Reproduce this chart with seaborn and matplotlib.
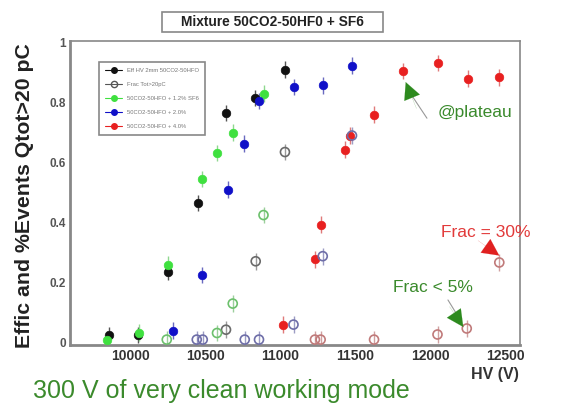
import matplotlib
matplotlib.use("Agg")
import matplotlib.pyplot as plt
from matplotlib.lines import Line2D
from matplotlib.patches import Rectangle
from matplotlib.ticker import MultipleLocator
import seaborn as sns
import pandas as pd

# ---------------- data ----------------
black_hv = [9860, 10055, 10250, 10450, 10640, 10835, 11030]
black_eff = [0.025, 0.025, 0.235, 0.465, 0.765, 0.815, 0.910]

black_open_hv = [10640, 10838, 11033]
black_open_frac = [0.043, 0.271, 0.635]

green_hv = [9845, 10060, 10250, 10480, 10580, 10685, 10890]
green_eff = [0.010, 0.033, 0.260, 0.545, 0.632, 0.700, 0.830]

green_open_hv = [10245, 10580, 10685, 10890]
green_open_frac = [0.010, 0.032, 0.130, 0.425]

blue_hv = [10285, 10480, 10655, 10760, 10860, 11090, 11285, 11480]
blue_eff = [0.040, 0.225, 0.510, 0.663, 0.805, 0.852, 0.857, 0.923]

blue_open_hv = [10445, 10485, 10765, 10860, 11090, 11285, 11480]
blue_open_frac = [0.010, 0.010, 0.010, 0.010, 0.060, 0.288, 0.690]

red_hv = [11022, 11235, 11270, 11435, 11467, 11627, 11822, 12050, 12250, 12462]
red_eff = [0.060, 0.278, 0.393, 0.643, 0.690, 0.760, 0.905, 0.932, 0.880, 0.884]

red_open_hv = [11233, 11271, 11627, 12050, 12245, 12462]
red_open_frac = [0.010, 0.010, 0.010, 0.027, 0.047, 0.267]

legend_labels = ["Eff HV 2mm 50CO2-50HFO", "Frac Tot>20pC",
                 "50CO2-50HFO + 1.2% SF6", "50CO2-50HFO + 2.0%",
                 "50CO2-50HFO + 4.0%"]
x_ticks = [10000, 10500, 11000, 11500, 12000, 12500]
y_ticks = [0, 0.2, 0.4, 0.6, 0.8, 1]
y_tick_labels = ["0", "0.2", "0.4", "0.6", "0.8", "1"]

# ---------------- figure ----------------
sns.set_style("white")
plt.rcParams["font.family"] = ["Liberation Sans", "DejaVu Sans"]

fig = plt.figure(figsize=(5.79, 4.03), dpi=100)
ax = fig.add_axes([70 / 579, 1 - 345 / 403, 450 / 579, 304 / 403])

ERR = 0.028
series = [
    (black_hv, black_eff, "#111111", "#555555", True),
    (green_hv, green_eff, "#3fe03f", "#8fd88f", True),
    (blue_hv, blue_eff, "#1010c8", "#6a6ac0", True),
    (red_hv, red_eff, "#e82020", "#e07a7a", True),
    (black_open_hv, black_open_frac, "#6a6a6a", "#9a9a9a", False),
    (green_open_hv, green_open_frac, "#6cc06c", "#9ccf9c", False),
    (blue_open_hv, blue_open_frac, "#6e6ea8", "#9c9cc4", False),
    (red_open_hv, red_open_frac, "#c07a7a", "#d0a0a0", False),
]

for hv, val, col, ecol, filled in series:
    ax.errorbar(hv, val, yerr=ERR, fmt="none", ecolor=ecol, elinewidth=1.0,
                capsize=0, zorder=2)
    df = pd.DataFrame({"hv": hv, "val": val})
    if filled:
        sns.scatterplot(data=df, x="hv", y="val", ax=ax, color=col, s=38,
                        marker="o", edgecolor=col, linewidth=0.5, zorder=3,
                        legend=False)
    else:
        sns.scatterplot(data=df, x="hv", y="val", ax=ax, s=42, marker="o",
                        facecolor="none", edgecolor=col, linewidth=1.2,
                        zorder=3, legend=False)

ax.set_xlim(9600, 12600)
ax.set_ylim(-0.008, 1.005)
ax.set_xlabel("")
ax.set_ylabel("")

ax.xaxis.set_minor_locator(MultipleLocator(100))
ax.set_xticks(x_ticks)
ax.set_yticks(y_ticks)
ax.set_yticklabels(y_tick_labels)
ax.yaxis.set_minor_locator(MultipleLocator(0.05))
ax.tick_params(axis="x", which="major", direction="in", length=9, width=1,
               color="#777777", labelsize=10, labelcolor="#333333", pad=3,
               top=False)
ax.tick_params(axis="x", which="minor", direction="in", length=5, width=0.8,
               color="#888888", top=False)
ax.tick_params(axis="y", which="major", direction="in", length=9, width=1,
               color="#777777", labelsize=8.5, labelcolor="#555555", pad=3,
               right=False)
ax.tick_params(axis="y", which="minor", direction="in", length=5, width=0.8,
               color="#888888", right=False)
for lab in ax.get_xticklabels():
    lab.set_fontweight("bold")
for lab in ax.get_yticklabels():
    lab.set_fontweight("bold")
for sp in ax.spines.values():
    sp.set_color("#888888")
    sp.set_linewidth(1.2)
ax.spines["left"].set_linewidth(2.0)
ax.spines["bottom"].set_linewidth(2.0)

# legend
handles = [
    Line2D([0], [0], color="#111111", marker="o", markersize=4, lw=0.8),
    Line2D([0], [0], color="#555555", marker="o", markersize=4.5, lw=0.8,
           markerfacecolor="none"),
    Line2D([0], [0], color="#3fe03f", marker="o", markersize=4, lw=0.8),
    Line2D([0], [0], color="#1010c8", marker="o", markersize=4, lw=0.8),
    Line2D([0], [0], color="#e82020", marker="o", markersize=4, lw=0.8),
]
leg = ax.legend(handles, legend_labels, loc="upper left",
                bbox_to_anchor=(0.058, 0.941), fontsize=4.2,
                labelspacing=1.55, handlelength=3.0, borderpad=1.0,
                fancybox=False, frameon=True, framealpha=1, labelcolor="#777777")
leg.get_frame().set_edgecolor("#888888")
leg.get_frame().set_linewidth(1.2)

# annotations
dgreen = "#3a8a2c"
ax.text(12300, 0.767, "@plateau", color=dgreen, fontsize=12.5,
        ha="center", va="center")
ax.annotate("", xy=(11870, 0.83), xytext=(11990, 0.740),
            arrowprops=dict(arrowstyle="-", color="#999999", lw=0.8))
ax.annotate("", xy=(11838, 0.868), xytext=(11910, 0.78),
            arrowprops=dict(arrowstyle="-|>", color="#2d8a1e", lw=0.1,
                            mutation_scale=30, shrinkA=0, shrinkB=0))

ax.text(12370, 0.367, "Frac = 30%", color="#e23a3a", fontsize=12.5,
        ha="center", va="center")
ax.annotate("", xy=(12462, 0.29), xytext=(12320, 0.34),
            arrowprops=dict(arrowstyle="-|>", color="#e02020", lw=0.1,
                            mutation_scale=30, shrinkA=0, shrinkB=0))

ax.text(12020, 0.183, "Frac < 5%", color=dgreen, fontsize=12.5,
        ha="center", va="center")
ax.annotate("", xy=(12190, 0.085), xytext=(12110, 0.15),
            arrowprops=dict(arrowstyle="-", color="#999999", lw=0.8))
ax.annotate("", xy=(12222, 0.052), xytext=(12130, 0.12),
            arrowprops=dict(arrowstyle="-|>", color="#2d8a1e", lw=0.1,
                            mutation_scale=30, shrinkA=0, shrinkB=0))

# title box
fig.patches.append(Rectangle((162 / 579, 1 - 32 / 403), 221 / 579, 20 / 403,
                             transform=fig.transFigure, facecolor="white",
                             edgecolor="#888888", linewidth=1.2))
fig.text(272 / 579, 1 - 22 / 403, "Mixture 50CO2-50HF0 + SF6",
         ha="center", va="center", fontsize=9.9, fontweight="bold",
         color="#222222")

# axis titles
fig.text(25 / 579, 1 - 196 / 403, "Effic and %Events Qtot>20 pC",
         rotation=90, ha="center", va="center", fontsize=15.3,
         fontweight="bold", color="#222222")
fig.text(495 / 579, 1 - 375 / 403, "HV (V)", ha="center", va="center",
         fontsize=11.5, fontweight="bold", color="#333333")

fig.text(33 / 579, 1 - 398 / 403, "300 V of very clean working mode",
         ha="left", va="baseline", fontsize=18, color="#3b8a2c")

fig.savefig("out.png", dpi=100, facecolor="white")
